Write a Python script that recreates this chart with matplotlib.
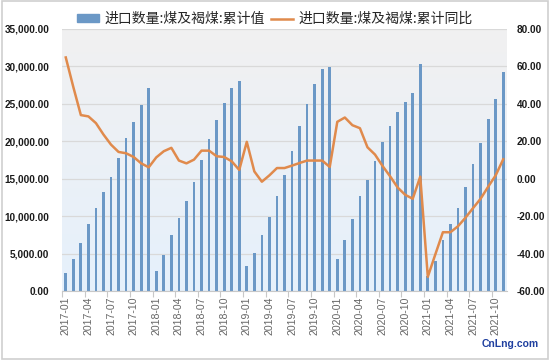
import matplotlib
matplotlib.use("Agg")
import matplotlib.pyplot as plt
import numpy as np
from matplotlib.patches import Rectangle
from matplotlib.lines import Line2D
from matplotlib.ticker import FuncFormatter, FixedLocator

plt.rcParams['font.family'] = ['Liberation Sans', 'Noto Sans CJK SC', 'DejaVu Sans']

months = [f"{y}-{m:02d}" for y in range(2017, 2022) for m in range(1, 13)][:59]

cum_value = [2460, 4250, 6395, 8900, 11135, 13282, 15250, 17754, 20437, 22584, 24820, 27056,
             2728, 4830, 7468, 9750, 12030, 14580, 17486, 20350, 22850, 25130, 27100, 28040,
             3354, 5053, 7424, 9928, 12700, 15430, 18690, 22000, 25000, 27590, 29650, 29960,
             4338, 6753, 9570, 12655, 14890, 17400, 19945, 22050, 23880, 25310, 26430, 30365,
             2050, 4070, 6800, 8944, 11090, 13900, 16950, 19720, 22990, 25710, 29200]

cum_yoy = [64.8, 49.0, 34.0, 33.3, 29.7, 23.6, 18.2, 14.3, 13.6, 11.6, 8.2, 6.1,
           11.4, 14.7, 16.5, 9.7, 8.2, 10.2, 15.0, 15.0, 12.0, 11.6, 9.3, 4.7,
           19.7, 3.9, -1.6, 1.8, 5.7, 5.7, 7.0, 8.4, 9.7, 9.7, 9.7, 6.3,
           30.4, 32.7, 28.6, 27.0, 16.8, 12.9, 6.8, 1.3, -4.7, -8.6, -10.7, 1.1,
           -52.4, -40.4, -28.6, -28.6, -25.4, -20.8, -15.7, -10.7, -4.3, 1.8, 10.4]

label_bar = "进口数量:煤及褐煤:累计值"
label_line = "进口数量:煤及褐煤:累计同比"

bar_color = "#6b98c6"
line_color = "#e08a4c"
cjk = ['Noto Sans CJK SC', 'DejaVu Sans']

fig = plt.figure(figsize=(5.5, 3.6), dpi=100)
fig.patch.set_facecolor('white')
fig.patches.append(Rectangle((0.003, 0.004), 0.994, 0.992, transform=fig.transFigure,
                             fill=False, edgecolor='#cfcfcf', linewidth=1.2))

ax = fig.add_axes([62/550, 1-291/360, (507-62)/550, (291-29)/360])
ax2 = ax.twinx()

x = np.arange(len(months))

# background gradient (gray top -> light blue bottom)
grad = np.linspace(0, 1, 256).reshape(-1, 1)
top_c = np.array([0.945, 0.945, 0.945])
bot_c = np.array([0.90, 0.945, 0.988])
img = top_c[None, None, :] * (1 - grad[:, :, None]) + bot_c[None, None, :] * grad[:, :, None]
ax.imshow(img, extent=[0, 1, 0, 1], transform=ax.transAxes, aspect='auto', zorder=0)

ax.set_xlim(-0.5, len(months) - 0.5)
ax.set_ylim(0, 35000)
ax2.set_ylim(-60, 80)

ax.bar(x, cum_value, width=0.36, color=bar_color, zorder=2)
ax2.plot(x, cum_yoy, color=line_color, linewidth=1.8, zorder=3)

ax.set_yticks(np.arange(0, 35001, 5000))
ax.yaxis.set_major_formatter(FuncFormatter(lambda v, p: f"{v:,.2f}"))
ax2.set_yticks(np.arange(-60, 81, 20))
ax2.yaxis.set_major_formatter(FuncFormatter(lambda v, p: f"{v:.2f}"))
ax.grid(axis='y', color='#d9d9d9', linewidth=0.9, zorder=1)
ax.set_axisbelow(True)

ax.set_xticks(np.arange(-0.5, len(months), 3))
ax.set_xticklabels([])
ax.xaxis.set_minor_locator(FixedLocator(list(range(0, len(months), 3))))
ax.set_xticklabels([months[i] for i in range(0, len(months), 3)], minor=True,
                   rotation=90, fontsize=7.6, color='#666666')
ax.tick_params(axis='x', which='major', length=4, color='#c8c8c8', width=0.8)
ax.tick_params(axis='x', which='minor', length=0, pad=4)

for a in (ax, ax2):
    for s in ('top', 'right', 'left', 'bottom'):
        a.spines[s].set_visible(False)
ax.spines['bottom'].set_visible(True)
ax.spines['bottom'].set_color('#c8c8c8')

ax.tick_params(axis='y', length=0, labelsize=7.2, pad=9, labelcolor='#1a1a1a')
ax2.tick_params(axis='y', length=0, labelsize=7.2, pad=7, labelcolor='#1a1a1a')
for lab in ax.get_yticklabels() + ax2.get_yticklabels():
    lab.set_fontweight('bold')

handles = [Rectangle((0, 0), 1, 1, color=bar_color),
           Line2D([0], [0], color=line_color, linewidth=1.8)]
leg = fig.legend(handles, [label_bar, label_line], loc='center', bbox_to_anchor=(0.4995, 1-19/360),
                 ncol=2, frameon=False, prop={'family': cjk, 'size': 10},
                 handlelength=1.6, handleheight=0.45, columnspacing=0.45, handletextpad=0.35)
for t in leg.get_texts():
    t.set_color('#262626')

fig.text(510/550, 1-344/360, "CnLng.com", color='#1f3f9f', fontsize=7.5, fontweight='bold',
         ha='center', va='center')

fig.savefig("out.png", dpi=100)
